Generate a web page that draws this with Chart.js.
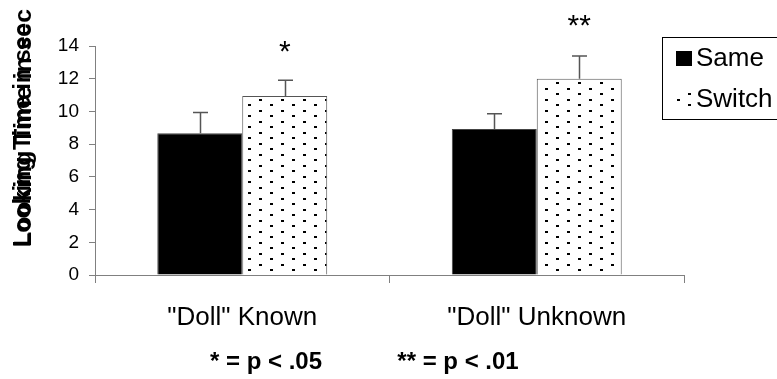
<!DOCTYPE html>
<html>
<head>
<meta charset="utf-8">
<script src="https://cdn.jsdelivr.net/npm/chart.js@4"></script>
<style>
  html, body { margin: 0; padding: 0; background: #fff; }
  #wrap { width: 777px; height: 379px; }
</style>
</head>
<body>
<div id="wrap"><canvas id="c" width="777" height="379"></canvas></div>
<script>
// ---- data ----
const categories = ['"Doll" Known', '"Doll" Unknown'];
const seriesNames = ['Same', 'Switch'];
const sameValues = [8.66, 8.92];
const switchValues = [10.94, 12.0];
const sameErrors = [1.28, 0.94];
const switchErrors = [0.96, 1.39];
const significance = ['*', '**'];
const yTicks = [0, 2, 4, 6, 8, 10, 12, 14];
const yTitle = 'Looking Time in sec';
const footnotes = ['* = p < .05', '** = p < .01'];

const FONT = 'Arial, "Liberation Sans", sans-serif';

// dotted pattern
function makePattern() {
  const t = document.createElement('canvas');
  t.width = 22; t.height = 11;
  const g = t.getContext('2d');
  g.fillStyle = '#fff'; g.fillRect(0, 0, 22, 11);
  g.fillStyle = '#000';
  g.fillRect(17, 0, 3, 2);
  g.fillRect(6, 5, 3, 2);
  return document.getElementById('c').getContext('2d').createPattern(t, 'repeat');
}
const dots = makePattern();

const errors = [sameErrors, switchErrors];

const extras = {
  id: 'extras',
  afterDatasetsDraw(chart) {
    const ctx = chart.ctx;
    const ys = chart.scales.y;
    // error bars
    ctx.save();
    ctx.strokeStyle = '#555';
    ctx.lineWidth = 1.5;
    chart.data.datasets.forEach((ds, di) => {
      const meta = chart.getDatasetMeta(di);
      meta.data.forEach((bar, i) => {
        const v = ds.data[i];
        const top = ys.getPixelForValue(v + errors[di][i]);
        const base = ys.getPixelForValue(v);
        const x = Math.round(bar.x) + 0.5;
        ctx.beginPath();
        ctx.moveTo(x, base);
        ctx.lineTo(x, top);
        ctx.moveTo(x - 7.5, top);
        ctx.lineTo(x + 7.5, top);
        ctx.stroke();
      });
    });
    ctx.restore();
    // significance stars above Switch bars
    ctx.save();
    ctx.fillStyle = '#000';
    ctx.font = '30px ' + FONT;
    ctx.textAlign = 'center';
    ctx.textBaseline = 'alphabetic';
    const meta1 = chart.getDatasetMeta(1);
    meta1.data.forEach((bar, i) => {
      const top = ys.getPixelForValue(switchValues[i] + switchErrors[i]);
      ctx.fillText(significance[i], bar.x, top - 19 - i * 2);
    });
    ctx.restore();
  },
  afterDraw(chart) {
    const ctx = chart.ctx;
    // legend box
    ctx.save();
    ctx.strokeStyle = '#000';
    ctx.lineWidth = 1;
    ctx.strokeRect(662.5, 37.5, 200, 82);
    const ds = chart.data.datasets;
    ctx.fillStyle = ds[0].backgroundColor;
    ctx.fillRect(676, 51, 16, 15);
    ctx.fillStyle = ds[1].backgroundColor;
    ctx.fillRect(676, 92, 16, 15);
    ctx.fillStyle = '#000';
    ctx.font = '26px ' + FONT;
    ctx.textBaseline = 'middle';
    ctx.textAlign = 'left';
    ctx.fillText(ds[0].label, 696, 59);
    ctx.fillText(ds[1].label, 696, 100);
    ctx.restore();

    // y axis title (two overlapping copies, as in the original)
    ctx.save();
    ctx.fillStyle = '#000';
    ctx.textBaseline = 'middle';
    ctx.textAlign = 'left';
    ctx.translate(24, 247);
    ctx.rotate(-Math.PI / 2);
    ctx.font = 'bold 24.8px ' + FONT;
    ctx.fillText(yTitle, 0, 0);
    ctx.font = 'bold 23.3px ' + FONT;
    ctx.fillText(yTitle, 0, 0);
    ctx.restore();

    // footnotes
    ctx.save();
    ctx.fillStyle = '#000';
    ctx.font = 'bold 24px ' + FONT;
    ctx.textAlign = 'center';
    ctx.textBaseline = 'middle';
    ctx.fillText(footnotes[0], 266, 362);
    ctx.fillText(footnotes[1], 458, 362);
    ctx.restore();
  }
};

new Chart(document.getElementById('c'), {
  type: 'bar',
  data: {
    labels: categories,
    datasets: [
      { label: seriesNames[0], data: sameValues, backgroundColor: '#000', borderColor: '#444', borderWidth: 1 },
      { label: seriesNames[1], data: switchValues, backgroundColor: dots, borderColor: '#555', borderWidth: 1 }
    ]
  },
  options: {
    responsive: false,
    animation: false,
    devicePixelRatio: 1,
    layout: { padding: { left: 0, right: 93, top: 46, bottom: 0 } },
    datasets: { bar: { categoryPercentage: 0.577, barPercentage: 1.0 } },
    plugins: { legend: { display: false }, tooltip: { enabled: false }, title: { display: false } },
    scales: {
      x: {
        offset: true,
        grid: { drawOnChartArea: false, drawTicks: true, tickLength: 8, color: '#808080', offset: true },
        border: { color: '#808080', width: 1 },
        ticks: { color: '#000', font: { family: FONT, size: 26 }, padding: 19, maxRotation: 0 },
        afterFit(scale) { scale.height = 104; }
      },
      y: {
        min: 0, max: 14,
        afterBuildTicks(scale) { scale.ticks = yTicks.map(v => ({ value: v })); },
        grid: { drawOnChartArea: false, drawTicks: true, tickLength: 6, color: '#808080' },
        border: { color: '#808080', width: 1 },
        ticks: { color: '#000', font: { family: FONT, size: 19 }, padding: 10 },
        afterFit(scale) { scale.width = 95; }
      }
    }
  },
  plugins: [extras]
});
</script>
</body>
</html>
